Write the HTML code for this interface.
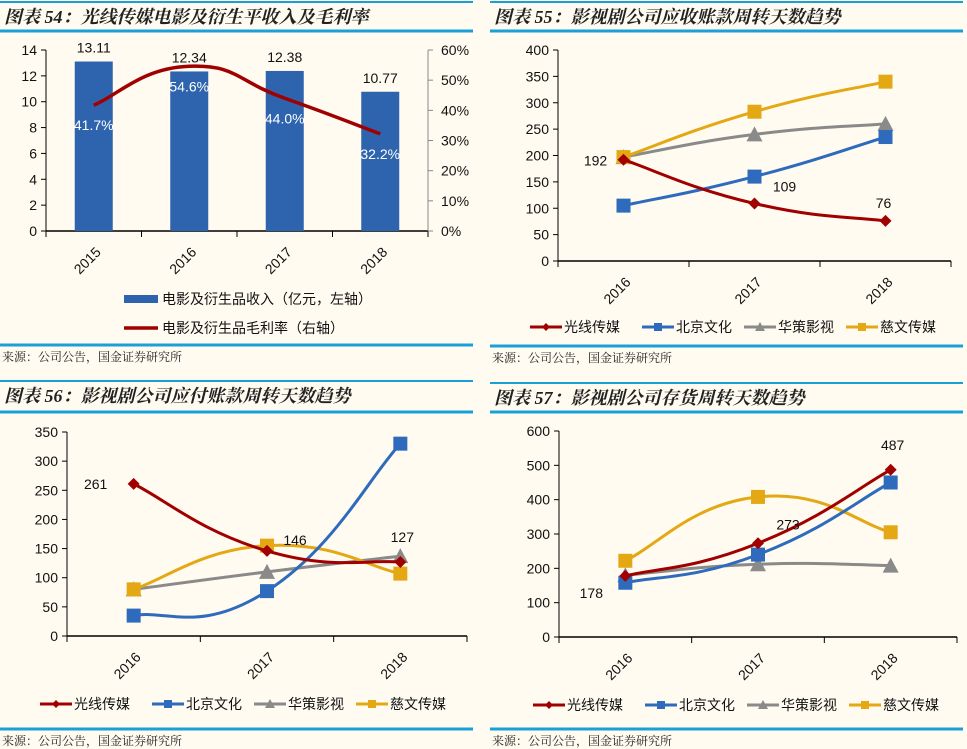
<!DOCTYPE html>
<html><head><meta charset="utf-8">
<style>
body{margin:0;width:967px;height:749px;background:#fffbf0;overflow:hidden;font-family:"Liberation Sans","Noto Sans CJK SC",sans-serif;}
svg{position:absolute;left:0;top:0}
</style></head>
<body>
<svg id="c" width="967" height="749"></svg>
<script>
const years54=['2015','2016','2017','2018'];
const revenue54=[13.11,12.34,12.38,10.77];
const margin54=[41.7,54.6,44.0,32.2];
const years=['2016','2017','2018'];
const names=['光线传媒','北京文化','华策影视','慈文传媒'];
const ar55_gx=[192,109,76];
const ar55_bj=[105,160,235];
const ar55_hc=[197,240,260];
const ar55_cw=[197,283,340];
const ap56_gx=[261,146,127];
const ap56_bj=[35,77,330];
const ap56_hc=[80,110,137];
const ap56_cw=[80,155,107];
const inv57_gx=[178,273,487];
const inv57_bj=[158,240,450];
const inv57_hc=[180,212,208];
const inv57_cw=[222,408,305];
const ticks54L=[0,2,4,6,8,10,12,14];
const ticks54R=[0,10,20,30,40,50,60];
const ticks55=[0,50,100,150,200,250,300,350,400];
const ticks56=[0,50,100,150,200,250,300,350];
const ticks57=[0,100,200,300,400,500,600];

const NS='http://www.w3.org/2000/svg';
const svg=document.getElementById('c');
function mk(tag,attrs,parent){const e=document.createElementNS(NS,tag);for(const k in attrs)e.setAttribute(k,attrs[k]);(parent||svg).appendChild(e);return e;}
function txt(x,y,s,attrs){const t=mk('text',Object.assign({x:x,y:y,'font-size':13,fill:'#111'},attrs||{}));t.textContent=s;return t;}
const COLORS=['#a00000','#2e6bbd','#8a8a8a','#e3a814'];

function frame(x0,x1,ytop,yrule,ybot,title,src,id){
  let l=mk('line',{x1:x0,x2:x1,y1:ytop,y2:ytop,stroke:'#1aa0d8','stroke-width':2});
  
  let t=txt(x0+4,ytop+21,title,{'font-size':18,'font-weight':'bold','font-style':'italic','font-family':'"Liberation Serif","Noto Serif CJK SC",serif',fill:'#222'});
  
  l=mk('line',{x1:x0,x2:x1,y1:yrule,y2:yrule,stroke:'#1aa0d8','stroke-width':3});
  
  l=mk('line',{x1:x0,x2:x1,y1:ybot,y2:ybot,stroke:'#1aa0d8','stroke-width':3});
  
  t=txt(x0+2,ybot+16,src,{'font-size':12,'font-family':'"Liberation Serif","Noto Serif CJK SC",serif',fill:'#222'});
  
}
function smooth(pts){
  if(pts.length<2)return '';
  let d='M'+pts[0][0]+','+pts[0][1];
  const k=0.25;
  for(let i=0;i<pts.length-1;i++){
    const p0=pts[i-1]||pts[i],p1=pts[i],p2=pts[i+1],p3=pts[i+2]||p2;
    const c1=[p1[0]+(p2[0]-p0[0])*k,p1[1]+(p2[1]-p0[1])*k];
    const c2=[p2[0]-(p3[0]-p1[0])*k,p2[1]-(p3[1]-p1[1])*k];
    d+=' C'+c1+' '+c2+' '+p2;
  }
  return d;
}
function marker(type,x,y,color,size){
  size=size||6;let m;
  if(type===0)m=mk('polygon',{points:[x,y-size,x+size,y,x,y+size,x-size,y].join(' '),fill:color});
  else if(type===1)m=mk('rect',{x:x-size,y:y-size,width:size*2,height:size*2,fill:color});
  else if(type===2)m=mk('polygon',{points:[x,y-size-1,x+size+1,y+size,x-size-1,y+size].join(' '),fill:color});
  else m=mk('rect',{x:x-size,y:y-size,width:size*2,height:size*2,fill:color});
  return m;
}
function axes(id,ax,ay0,ay1,ax1,ticks,max,cats,catX){
  const ys=v=>ay0-(v/max)*(ay0-ay1);
  let l=mk('line',{x1:ax,x2:ax,y1:ay1,y2:ay0,stroke:'#000','stroke-width':1});
  
  l=mk('line',{x1:ax,x2:ax1,y1:ay0,y2:ay0,stroke:'#000','stroke-width':1.5});
  
  ticks.forEach(v=>{
    mk('line',{x1:ax-5,x2:ax,y1:ys(v),y2:ys(v),stroke:'#000'});
    const t=txt(ax-9,ys(v)+5,String(v),{'text-anchor':'end','font-size':14});
    
  });
  const bw=(ax1-ax)/cats.length;
  for(let i=0;i<=cats.length;i++)mk('line',{x1:ax+bw*i,x2:ax+bw*i,y1:ay0,y2:ay0+6,stroke:'#000'});
  cats.forEach((c,i)=>{
    const x=catX(i),y=ay0+22;
    const t=txt(x+8,y,c,{'text-anchor':'end','font-size':14,transform:'rotate(-45 '+(x+8)+' '+y+')'});
    
  });
  return ys;
}
function lineChart(id,ax,ay0,ay1,ax1,ticks,max,series,labels,legY,legX){
  const bw=(ax1-ax)/years.length;
  const xs=i=>ax+bw*(i+0.5);
  const ys=axes(id,ax,ay0,ay1,ax1,ticks,max,years,xs);
  const order=[2,3,1,0];
  order.forEach(s=>{
    const pts=series[s].map((v,i)=>[xs(i),ys(v)]);
    const p=mk('path',{d:smooth(pts),fill:'none',stroke:COLORS[s],'stroke-width':3});
    
    pts.forEach(pt=>{const m=marker(s,pt[0],pt[1],COLORS[s],s===0?6:7);
      });
  });
  labels.forEach(lb=>{
    const v=series[0][lb[0]];
    const t=txt(xs(lb[0])+lb[1],ys(v)+lb[2],String(v),{'font-size':14,'text-anchor':'middle'});
    
  });
  const widths=[112,102,102,102];
  let x=legX;
  names.forEach((n,s)=>{
    const g=mk('g',{});
    
    mk('line',{x1:x,x2:x+32,y1:legY,y2:legY,stroke:COLORS[s],'stroke-width':3},g);
    const m=marker(s,x+16,legY,COLORS[s],4);g.appendChild(m);
    const t=txt(x+34,legY+5,n,{'font-size':14});g.appendChild(t);
    x+=widths[s];
  });
}

/* Panel 54 */
frame(0,473,2,31,345,'图表 54：光线传媒电影及衍生平收入及毛利率','来源：公司公告，国金证券研究所','p54');
(function(){
  const ax=46,ax1=428,ay0=231,ay1=50;
  const bw=(ax1-ax)/4;const xs=i=>ax+bw*(i+0.5);
  const ys=axes('p54',ax,ay0,ay1,ax1,ticks54L,14,years54,xs);
  mk('line',{x1:ax1,x2:ax1,y1:ay1,y2:ay0,stroke:'#888'});
  const yr=v=>ay0-(v/60)*(ay0-ay1);
  ticks54R.forEach(v=>{mk('line',{x1:ax1,x2:ax1+5,y1:yr(v),y2:yr(v),stroke:'#888'});
    const t=txt(ax1+13,yr(v)+5,v+'%',{'font-size':14});
    });
  revenue54.forEach((v,i)=>{
    const r=mk('rect',{x:xs(i)-19,y:ys(v),width:38,height:ay0-ys(v),fill:'#2e63ae'});
    
    const t=txt(xs(i),ys(v)-9,v.toFixed(2),{'text-anchor':'middle','font-size':14});
    
  });
  const pts=margin54.map((v,i)=>[xs(i),yr(v)]);
  const p=mk('path',{d:smooth(pts),fill:'none',stroke:'#a00000','stroke-width':3.5});
  
  margin54.forEach((v,i)=>{
    const t=txt(xs(i),yr(v)+25,v.toFixed(1)+'%',{'text-anchor':'middle','font-size':14,fill:'#fff'});
    
  });
  let g=mk('g',{});
  mk('rect',{x:124,y:295,width:34,height:8,fill:'#2e63ae'},g);
  g.appendChild(txt(162,304,'电影及衍生品收入（亿元，左轴）',{'font-size':14}));
  g=mk('g',{});
  mk('line',{x1:124,x2:158,y1:328,y2:328,stroke:'#a00000','stroke-width':3.5},g);
  g.appendChild(txt(162,333,'电影及衍生品毛利率（右轴）',{'font-size':14}));
})();

/* Panel 55 */
frame(490,963,2,31,346,'图表 55：影视剧公司应收账款周转天数趋势','来源：公司公告，国金证券研究所','p55');
lineChart('p55',558,261,50,951,ticks55,400,[ar55_gx,ar55_bj,ar55_hc,ar55_cw],[[0,-28,6],[1,30,-12],[2,-2,-13]],327,530);

/* Panel 56 */
frame(0,473,381,412,729,'图表 56：影视剧公司应付账款周转天数趋势','来源：公司公告，国金证券研究所','p56');
lineChart('p56',67,636,432,467,ticks56,350,[ap56_gx,ap56_bj,ap56_hc,ap56_cw],[[0,-38,5],[1,28,-6],[2,2,-20]],704,40);

/* Panel 57 */
frame(490,963,383,412,729,'图表 57：影视剧公司存货周转天数趋势','来源：公司公告，国金证券研究所','p57');
lineChart('p57',559,637,431,957,ticks57,600,[inv57_gx,inv57_bj,inv57_hc,inv57_cw],[[0,-34,22],[1,30,-14],[2,2,-20]],705,533);
</script>
</body></html>
